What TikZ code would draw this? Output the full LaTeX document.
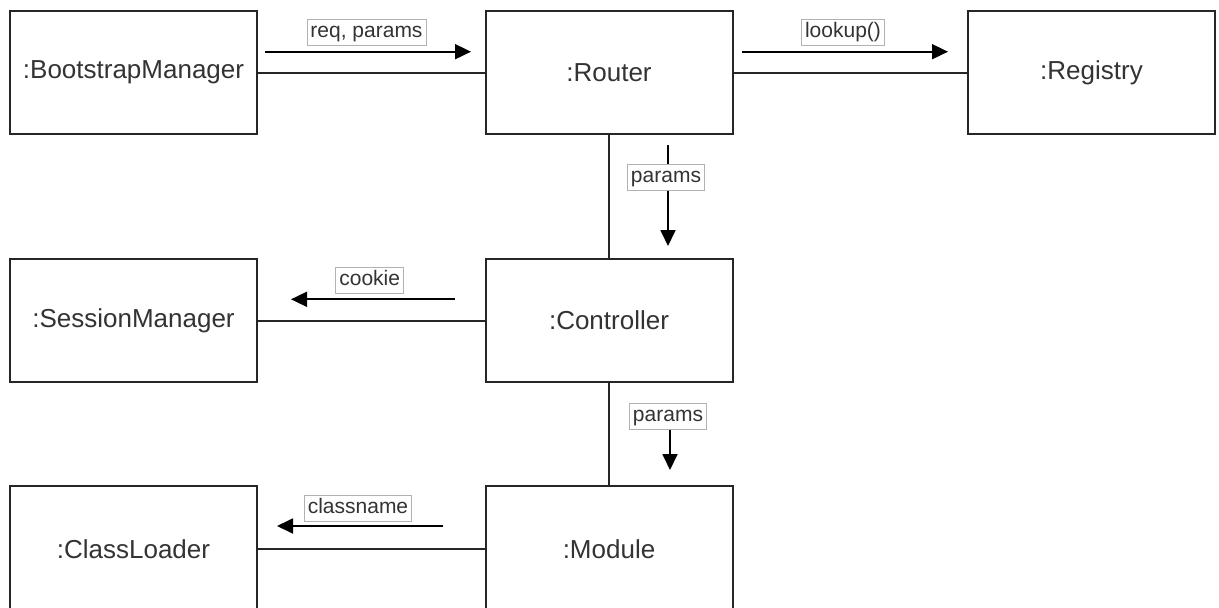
\documentclass[tikz,border=0pt]{standalone}
\usepackage{fontspec}
\setmainfont{Liberation Sans}
\usetikzlibrary{arrows.meta}
\begin{document}
\begin{tikzpicture}[x=1pt,y=-1pt,
  obj/.style={draw=black!85, line width=2pt, fill=white, minimum width=247pt, minimum height=123pt,
    inner sep=0pt, font=\fontsize{26}{30}\selectfont, text=black!80, anchor=north west},
  conn/.style={draw=black!85, line width=2pt},
  msg/.style={draw=black, line width=1.8pt, -{Triangle[length=16pt,width=15pt]}},
  lbl/.style={draw=black!30, line width=0.8pt, fill=white, inner xsep=3.5pt, inner ysep=0pt,
    text height=15pt, text depth=5pt, minimum height=26pt,
    font=\fontsize{21}{24}\selectfont, text=black!80}]
\useasboundingbox (0,0) rectangle (1219,608);
\clip (0,0) rectangle (1219,608);
% objects
\node[obj] (bm) at (9,10) {:BootstrapManager};
\node[obj] (router) at (484.5,10) {:Router};
\node[obj] (reg) at (967,10) {:Registry};
\node[obj] (sess) at (9,258) {:SessionManager};
\node[obj] (ctrl) at (484.5,258) {:Controller};
\node[obj, minimum height=126pt] (cl) at (9,485) {\raisebox{-1.5pt}{:ClassLoader}};
\node[obj, minimum height=126pt] (mod) at (484.5,485) {\raisebox{-1.5pt}{:Module}};
% links
\draw[conn] (bm.east) -- (router.west);
\draw[conn] (router.east) -- (reg.west);
\draw[conn] (router.south) -- (ctrl.north);
\draw[conn] (ctrl.west) -- (sess.east);
\draw[conn] (ctrl.south) -- (mod.north);
\draw[conn] (mod.west |- cl.center) -- (cl.east |- cl.center);
% message arrows
\coordinate (m1s) at (265,51.7);  \coordinate (m1e) at (471,51.7);
\coordinate (m2s) at (742,51.7);  \coordinate (m2e) at (948,51.7);
\coordinate (m3s) at (668,145);   \coordinate (m3e) at (668,246);
\coordinate (m4s) at (455,299.3); \coordinate (m4e) at (291,299.3);
\coordinate (m5s) at (670,403);   \coordinate (m5e) at (670,470);
\coordinate (m6s) at (443,526);   \coordinate (m6e) at (277,526);
\draw[msg] (m1s) -- (m1e);
\draw[msg] (m2s) -- (m2e);
\draw[msg] (m3s) -- (m3e);
\draw[msg] (m4s) -- (m4e);
\draw[msg] (m5s) -- (m5e);
\draw[msg] (m6s) -- (m6e);
% labels
\node[lbl] (l1) at (366.5,32.5) {req, params};
\node[lbl] (l2) at (843,32.5) {lookup()};
\node[lbl] (l3) at (666,177.5) {params};
\node[lbl] (l4) at (369.7,280.8) {cookie};
\node[lbl] (l5) at (668,416.5) {params};
\node[lbl] (l6) at (358,508) {classname};
\end{tikzpicture}
\end{document}
